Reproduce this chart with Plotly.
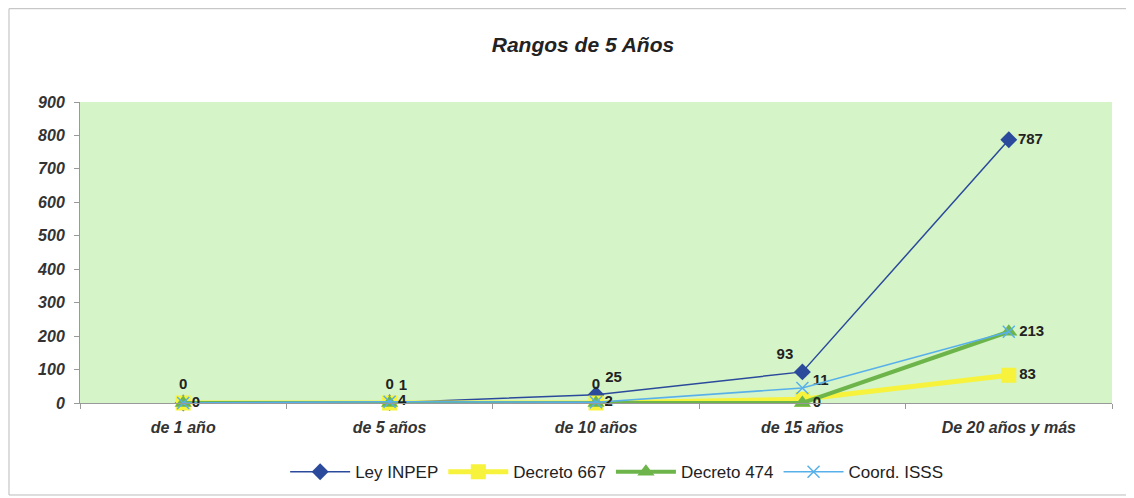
import plotly.graph_objects as go

categories = ["de 1 año", "de 5 años", "de 10 años", "de 15 años", "De 20 años y más"]

ley_inpep = [0, 1, 25, 93, 787]
decreto_667 = [0, 0, 0, 11, 83]
decreto_474 = [0, 0, 0, 0, 213]
coord_isss = [0, 4, 2, 45, 213]

ley_inpep_labels = ["", "1", "25", "93", "787"]
decreto_667_labels = ["", "", "", "11", "83"]
decreto_474_labels = ["0", "0", "0", "0", "213"]
coord_isss_labels = ["0", "4", "2", "", ""]

y_ticks = [0, 100, 200, 300, 400, 500, 600, 700, 800, 900]

FONT = "Liberation Sans, Arial, sans-serif"
label_font = dict(family=FONT, size=15, color="#222222", weight="bold")

fig = go.Figure()

fig.add_trace(go.Scatter(
    x=categories, y=ley_inpep, name="Ley INPEP", mode="lines+markers+text",
    line=dict(color="#2b4a9b", width=1.5),
    marker=dict(symbol="diamond", size=13, color="#2b4a9b"),
    text=ley_inpep_labels,
    textposition=["middle right", "top right", "top right", "top left", "middle right"],
    textfont=label_font, cliponaxis=False,
))
fig.add_trace(go.Scatter(
    x=categories, y=decreto_667, name="Decreto 667", mode="lines+markers+text",
    line=dict(color="#f7f23c", width=5),
    marker=dict(symbol="square", size=15, color="#f7f23c"),
    text=decreto_667_labels,
    textposition=["middle right", "middle right", "middle right", "top right", "middle right"],
    textfont=label_font, cliponaxis=False,
))
fig.add_trace(go.Scatter(
    x=categories, y=decreto_474, name="Decreto 474", mode="lines+markers+text",
    line=dict(color="#6db54b", width=4),
    marker=dict(symbol="triangle-up", size=15, color="#6db54b"),
    text=decreto_474_labels,
    textposition=["top center", "top center", "top center", "middle right", "middle right"],
    textfont=label_font, cliponaxis=False,
))
fig.add_trace(go.Scatter(
    x=categories, y=coord_isss, name="Coord. ISSS", mode="lines+markers+text",
    line=dict(color="#58b0ea", width=1.5),
    marker=dict(symbol="x-thin", size=12, color="#58b0ea", line=dict(color="#58b0ea", width=1.5)),
    text=coord_isss_labels,
    textposition="middle right",
    textfont=label_font, cliponaxis=False,
))

fig.update_layout(
    width=1134, height=498,
    margin=dict(l=72, r=30, t=94, b=103),
    paper_bgcolor="white",
    plot_bgcolor="rgb(213,244,200)",
    title=dict(text="<b><i>Rangos de 5 Años</i></b>", x=0.507, xanchor="center",
               y=0.926, yanchor="middle", yref="container",
               font=dict(family=FONT, size=21, color="#222222")),
    xaxis=dict(
        type="category", range=[-0.5, 4.5], showgrid=False, automargin=False,
        tickson="boundaries", ticks="outside", ticklen=5, tickcolor="#999999",
        showline=True, linecolor="#999999", linewidth=1,
        tickfont=dict(family=FONT, size=16, color="#333333", weight="bold", style="italic"),
        ticklabelstandoff=10,
    ),
    yaxis=dict(
        range=[0, 900], tickvals=y_ticks, showgrid=False, zeroline=False, automargin=False,
        ticks="outside", ticklen=5, tickcolor="#999999",
        showline=True, linecolor="#999999", linewidth=1,
        tickfont=dict(family=FONT, size=16, color="#333333", weight="bold", style="italic"),
        ticklabelstandoff=6,
    ),
    legend=dict(orientation="h", x=0.52, xanchor="center", y=-0.23, yanchor="middle",
                font=dict(family=FONT, size=17, color="#222222"),
                itemwidth=60, tracegroupgap=0),
    showlegend=True,
)

fig.add_shape(type="rect", xref="paper", yref="paper",
              x0=-0.0688, x1=1.0184, y0=-0.3056, y1=1.31,
              line=dict(color="#bbbbbb", width=1), fillcolor="rgba(0,0,0,0)", layer="below")

fig.write_html("out.html")
